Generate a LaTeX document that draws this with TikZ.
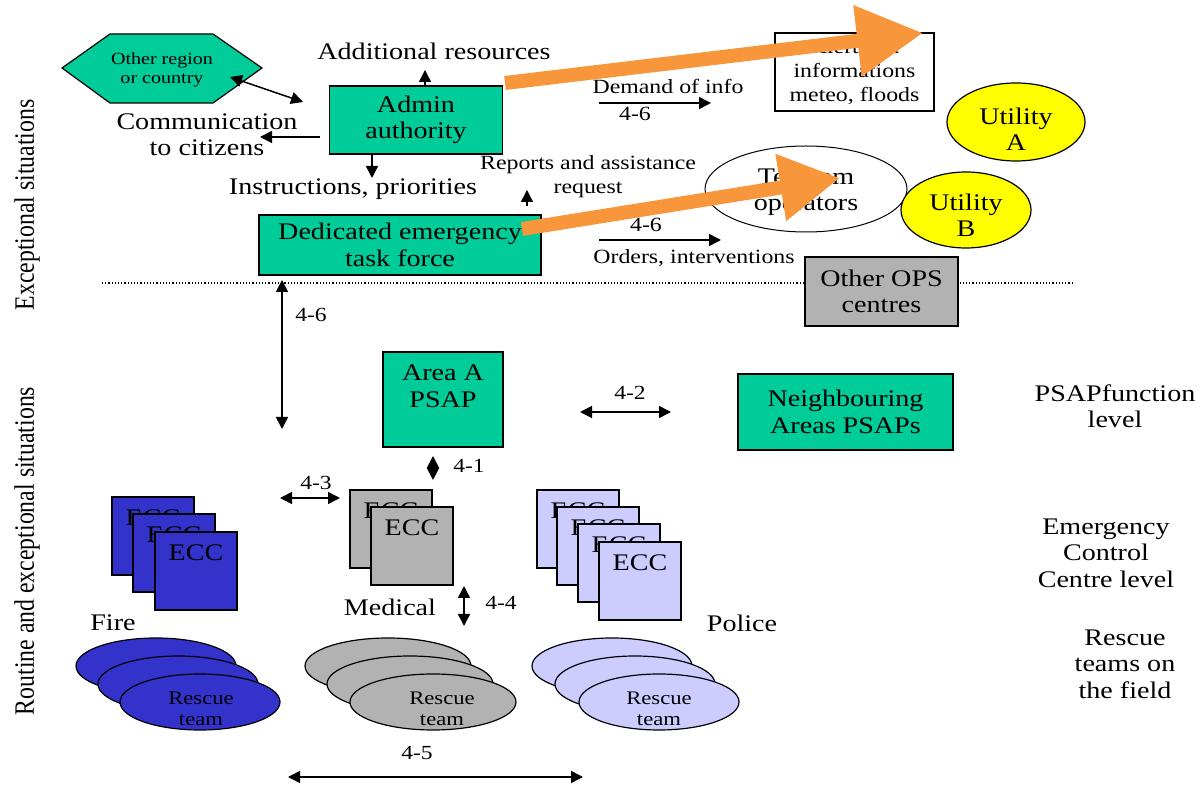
\documentclass[tikz,border=0pt]{standalone}
\usepackage{fontspec}
\setmainfont{Liberation Serif}[FakeStretch=1.18]
\newfontfamily\sidefont{Liberation Serif}[FakeStretch=0.847]
\usetikzlibrary{arrows.meta,shapes.geometric}
\definecolor{psapgreen}{RGB}{0,204,153}
\definecolor{opsgray}{RGB}{178,178,178}
\definecolor{fireblue}{RGB}{51,51,204}
\definecolor{policeblue}{RGB}{204,204,255}
\definecolor{utilyellow}{RGB}{255,255,0}
\definecolor{arroworange}{RGB}{247,150,58}
\newcommand\mainsize{\fontsize{11.9}{13.2}\selectfont}
\newcommand\smallsize{\fontsize{10.1}{12}\selectfont}
\newcommand\labelsize{\fontsize{10}{12}\selectfont}
\newcommand\tinysize{\fontsize{8.5}{9.5}\selectfont}
\newcommand\teamsize{\fontsize{9.6}{10.5}\selectfont}
\tikzset{
  txt/.style={font=\mainsize, align=center, inner sep=0pt},
  smalltxt/.style={font=\smallsize, align=center, inner sep=0pt},
  labeltxt/.style={font=\labelsize, inner sep=0pt},
  teamtxt/.style={font=\teamsize, align=center, inner sep=0pt},
  box/.style={draw, fill=psapgreen, line width=0.7pt, font=\mainsize, align=center},
  util/.style={draw, ellipse, fill=utilyellow, line width=0.6pt, inner sep=0pt},
  ecc/.style={draw, line width=0.6pt, minimum width=41pt, minimum height=39pt, text height=8pt, text depth=18.1pt, font=\mainsize},
  team/.style={draw, ellipse, line width=0.6pt, minimum width=80pt, minimum height=28pt, inner sep=0pt},
  conn/.style={line width=0.75pt},
  bigarrow/.style={draw=arroworange, line width=7pt, -{Triangle[length=33pt,width=34pt]}}
}
\begin{document}
\begin{tikzpicture}[x=0.5pt,y=-0.5pt,>={Triangle[length=6pt,width=6pt]}]
\useasboundingbox (0,0) rectangle (1200,785);
% side labels
\node[font=\sidefont\fontsize{14.04}{15}\selectfont, rotate=90, inner sep=0pt] (exclbl) at (27,205) {Exceptional situations};
\node[font=\sidefont\fontsize{14.04}{15}\selectfont, rotate=90, inner sep=0pt] (routlbl) at (27,551) {Routine and exceptional situations};
% exceptional level
\draw[fill=psapgreen, line width=0.6pt] (62,68)--(110,34)--(213,34)--(262,68)--(213,103)--(110,103)--cycle;
\node[font=\tinysize, align=center, inner sep=0pt] (other) at (162,70) {Other region\\or country};
\node[box, minimum width=86.5pt, minimum height=34pt] (admin) at (416,120) {Admin\\authority};
\coordinate (oa) at (230,77);
\coordinate (ob) at (303,102);
\draw[conn,<->] (oa)--(ob);
\node[txt] (addres) at (434,51) {Additional resources};
\coordinate (up) at (425,70);
\draw[conn,->] (admin.north -| up)--(up);
\node[txt] (citizens) at (207,135) {Communication\\to citizens};
\coordinate (ca) at (320,137);
\coordinate (cb) at (260,137);
\draw[conn,->] (ca)--(cb);
\coordinate (dn) at (372,178);
\draw[conn,->] (admin.south -| dn)--(dn);
\node[txt] (instr) at (353,189) {Instructions, priorities};
\node[smalltxt] (reports) at (588,177) {Reports and assistance\\request};
\coordinate (ra) at (527,206);
\coordinate (rb) at (527,190);
\draw[conn,->] (ra)--(rb);
\node[box, minimum width=141pt, minimum height=30pt] (task) at (400,245) {Dedicated emergency\\task force};
\node[smalltxt] (demand) at (668,86) {Demand of info};
\coordinate (da) at (599,103);
\coordinate (db) at (711,103);
\draw[conn,->] (da)--(db);
\node[smalltxt] (dnum) at (635,114) {4-6};
\node[draw, fill=white, line width=0.7pt, minimum width=79.5pt, minimum height=39pt, font=\fontsize{10.1}{12.2}\selectfont, align=center, inner sep=0pt] (alert) at (854.5,72) {Alert and\\informations\\meteo, floods};
\node[smalltxt] (onum) at (646,225) {4-6};
\coordinate (ea) at (599,240);
\coordinate (eb) at (721,240);
\draw[conn,->] (ea)--(eb);
\node[smalltxt] (orders) at (694,258) {Orders, interventions};
\node[draw, ellipse, line width=0.5pt, minimum width=101pt, minimum height=43pt, inner sep=0pt] (telecom) at (806,189) {};
\node[txt] (telecomtxt) at (806,192) {Telecom\\operators};
\node[util, minimum width=69pt, minimum height=39pt] (utila) at (1016,122) {};
\node[txt] (utilatxt) at (1016,129) {Utility\\A};
\node[util, minimum width=65pt, minimum height=38pt] (utilb) at (966,210) {};
\node[txt] (utilbtxt) at (966,215) {Utility\\B};
\coordinate (la) at (102,283);
\coordinate (lb) at (1072,283);
\draw[densely dotted, line width=0.6pt] (la)--(lb);
\node[box, fill=opsgray, minimum width=76.5pt, minimum height=34.5pt] (ops) at (881.5,291.5) {Other OPS\\centres};
% PSAP level
\coordinate (va) at (282,280);
\coordinate (vb) at (282,429);
\draw[conn,<->] (va)--(vb);
\node[labeltxt] (vnum) at (311,315) {4-6};
\node[box, minimum width=60pt, minimum height=47.5pt] (psapa) at (443,399.5) {Area A\\PSAP\\~};
\coordinate (na) at (580,412);
\coordinate (nb) at (671,412);
\draw[conn,<->] (na)--(nb);
\node[labeltxt] (nnum) at (630,393) {4-2};
\node[box, minimum width=107.5pt, minimum height=38pt] (neigh) at (845.5,412) {Neighbouring\\Areas PSAPs};
\node[txt] (psaplvl) at (1115,406) {PSAPfunction\\level};
\coordinate (pa) at (433,456);
\coordinate (pb) at (433,480);
\draw[conn,<->] (pa)--(pb);
\node[labeltxt] (pnum) at (469,466) {4-1};
\coordinate (ma) at (280,498);
\coordinate (mb) at (340,498);
\draw[conn,<->] (ma)--(mb);
\node[labeltxt] (mnum) at (316,483) {4-3};
% ECC level
\node[ecc, fill=fireblue] (fire1) at (153,536) {ECC};
\node[ecc, fill=fireblue] (fire2) at (174,553) {ECC};
\node[ecc, fill=fireblue] (fire3) at (196,571) {ECC};
\node[ecc, fill=opsgray] (med1) at (391,529) {ECC};
\node[ecc, fill=opsgray] (med2) at (412,546) {ECC};
\node[ecc, fill=policeblue] (pol1) at (578,529) {ECC};
\node[ecc, fill=policeblue] (pol2) at (598,546) {ECC};
\node[ecc, fill=policeblue] (pol3) at (619,563) {ECC};
\node[ecc, fill=policeblue] (pol4) at (640,581) {ECC};
\node[txt] (firelbl) at (113,623) {Fire};
\node[txt] (medlbl) at (390,607) {Medical};
\node[txt] (pollbl) at (742,623) {Police};
\coordinate (sa) at (464,586);
\coordinate (sb) at (464,626);
\draw[conn,<->] (sa)--(sb);
\node[labeltxt] (snum) at (501,603) {4-4};
\node[txt] (ecclvl) at (1106,553) {Emergency\\Control\\Centre level};
% rescue teams
\node[team, fill=fireblue] (fteam1) at (156,666) {};
\node[team, fill=fireblue] (fteam2) at (178,684) {};
\node[team, fill=fireblue] (fteam3) at (200,702) {};
\node[teamtxt] (fteamtxt) at (201,709) {Rescue\\team};
\node[team, fill=opsgray, minimum width=83pt] (mteam1) at (388,666) {};
\node[team, fill=opsgray, minimum width=83pt] (mteam2) at (410,684) {};
\node[team, fill=opsgray, minimum width=83pt] (mteam3) at (433,702) {};
\node[teamtxt] (mteamtxt) at (442,709) {Rescue\\team};
\node[team, fill=policeblue] (pteam1) at (612,666) {};
\node[team, fill=policeblue] (pteam2) at (635,684) {};
\node[team, fill=policeblue] (pteam3) at (659,702) {};
\node[teamtxt] (pteamtxt) at (659,709) {Rescue\\team};
\node[txt] (teamlvl) at (1125,664) {Rescue\\teams on\\the field};
\coordinate (ta) at (288,777);
\coordinate (tb) at (583,777);
\draw[conn,<->] (ta)--(tb);
\node[labeltxt] (tnum) at (417,753) {4-5};
% orange arrows
\coordinate (ga) at (505,83);
\coordinate (gb) at (923,33);
\draw[bigarrow] (ga)--(gb);
\coordinate (ha) at (522,229);
\coordinate (hb) at (840,178);
\draw[bigarrow, -{Triangle[length=30pt,width=32pt]}] (ha)--(hb);
\end{tikzpicture}
\end{document}
